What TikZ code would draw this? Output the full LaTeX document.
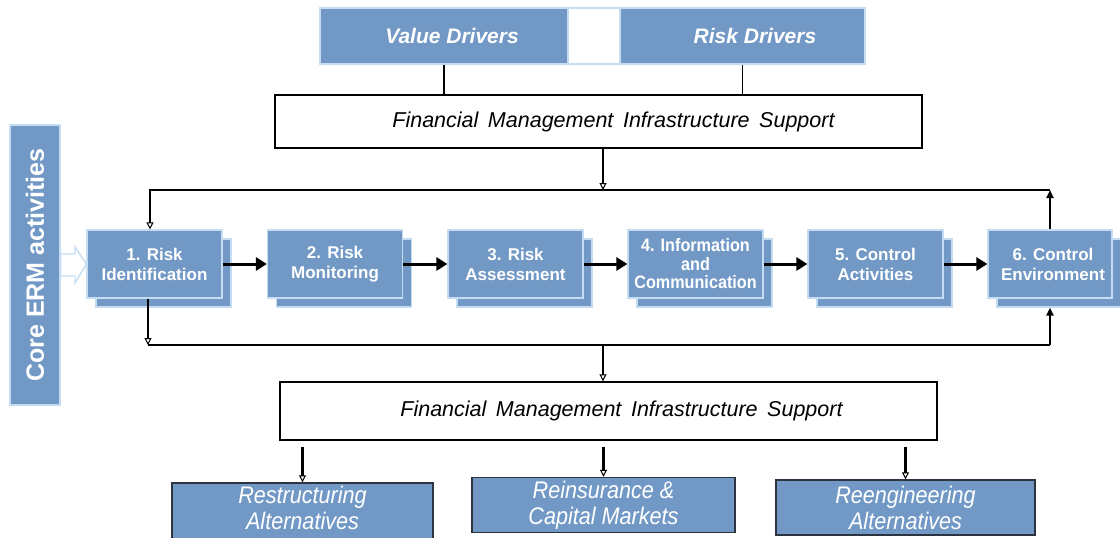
\documentclass[tikz,border=0pt]{standalone}
\usepackage{fontspec}
\setmainfont{Liberation Sans}
\newfontfamily\narrowsans[FakeStretch=0.9]{Liberation Sans}
\usetikzlibrary{arrows.meta,shadows}

\definecolor{ermblue}{HTML}{7299C6}
\definecolor{ermedge}{HTML}{C5DDF2}
\definecolor{ermdark}{HTML}{2B3440}

\tikzset{
  stepbox/.style={draw=ermedge, line width=1.2pt, fill=ermblue, text=white,
    minimum width=135pt, minimum height=68pt, inner sep=2pt, align=center,
    font={\fontsize{17}{20}\selectfont\bfseries},
    copy shadow={shadow xshift=9pt, shadow yshift=-9pt}},
  driverbox/.style={draw=ermedge, line width=1.2pt, fill=ermblue, text=white,
    minimum height=56pt, font={\fontsize{21}{24}\selectfont\bfseries\itshape}},
  supportbox/.style={draw=black, line width=1.4pt, fill=white,
    font={\fontsize{21.5}{24}\selectfont\itshape}},
  altbox/.style={draw=ermdark, line width=1.4pt, fill=ermblue, text=white,
    align=center, font={\narrowsans\fontsize{24}{26}\selectfont\itshape}},
  loopline/.style={line width=2.6pt, black},
  flowarrow/.style={line width=3pt, -{Triangle[length=11pt, width=13pt]}},
  opentip/.style={line width=2.2pt, -{Triangle[open, length=7pt, width=7pt, line width=1pt]}},
  uptip/.style={line width=2.6pt, -{Triangle[length=8pt, width=7pt]}}
}

\begin{document}
\begin{tikzpicture}[x=1pt, y=-1pt]
\useasboundingbox (0,0) rectangle (1120,538);

% drivers along the top
\node [driverbox, minimum width=248pt] (valuedrv) at (444,36) {\hspace*{16pt}Value Drivers};
\node [draw=ermedge, line width=1.2pt, fill=white, minimum width=52pt, minimum height=56pt] (gapbox) at (594,36) {};
\node [driverbox, minimum width=245pt] (riskdrv) at (742.5,36) {\hspace*{25pt}Risk Drivers};

\node [supportbox, minimum width=647pt, minimum height=53pt] (fmistop) at (598.5,121.5)
  {\hspace*{30pt}Financial\, Management\, Infrastructure\, Support};

\draw [line width=1.4pt] (valuedrv.south) -- (valuedrv.south |- fmistop.north);
\draw [line width=1.4pt] (riskdrv.south) -- (riskdrv.south |- fmistop.north);

% core ERM bar
\node [fill=ermblue, draw=ermedge, line width=1.2pt, text=white, rotate=90,
  minimum width=280pt, minimum height=50pt,
  font={\fontsize{25}{27}\selectfont\bfseries}] (core) at (35,265) {Core ERM activities};

% the six steps
\node [stepbox] (risk1) at (154.5,264) {1. Risk\\Identification};
\node [stepbox] (risk2) at (335,264) {2. Risk\\Monitoring};
\node [stepbox] (risk3) at (515.5,264) {3. Risk\\Assessment};
\node [stepbox, font={\narrowsans\fontsize{18}{18.5}\selectfont\bfseries}] (risk4) at (695.5,264) {4. Information\\and\\Communication};
\node [stepbox] (risk5) at (875.5,264) {5. Control\\Activities};
\node [stepbox, minimum width=124pt] (risk6) at (1050,264) {\hspace*{6pt}6. Control\\\hspace*{6pt}Environment};

\draw [fill=white, draw=ermedge, line width=1.4pt]
  (core.south |- 0,254) -- (75,254) -- (75,247) -- (risk1.west) -- (75,283) -- (75,276) -- (core.south |- 0,276) -- cycle;

\draw [flowarrow] (risk1) -- (risk2);
\draw [flowarrow] (risk2) -- (risk3);
\draw [flowarrow] (risk3) -- (risk4);
\draw [flowarrow] (risk4) -- (risk5);
\draw [flowarrow] (risk5) -- (risk6);

% feedback loops
\coordinate (topleft) at (150,190);
\coordinate (topright) at (1050,190);
\coordinate (topjoin) at (603,190);
\coordinate (botleft) at (148,345);
\coordinate (botright) at (1050,345);
\coordinate (botjoin) at (603,345);

\draw [opentip] (fmistop.south -| topjoin) -- (topjoin);
\draw [uptip] (risk6.north) -- (topright);
\draw [opentip, line width=2.6pt] (topright) -- (topleft) -- (topleft |- risk1.north);
\draw [opentip, line width=2.6pt] (botleft |- risk1.south) -- (botleft);
\draw [loopline] (botleft) -- (botright);
\draw [uptip] (botright) -- ([yshift=-9pt]risk6.south);

\node [supportbox, minimum width=657pt, minimum height=58pt] (fmisbot) at (608.5,411)
  {\hspace*{26pt}Financial\, Management\, Infrastructure\, Support};

\draw [opentip] (botjoin) -- (botjoin |- fmisbot.north);

% alternatives
\node [altbox, minimum width=261pt, minimum height=56pt] (alt1) at (302.5,512) {Restructuring\\Alternatives\\[-18pt]};
\node [altbox, minimum width=263pt, minimum height=54pt] (alt2) at (603.5,505) {Reinsurance \&\\Capital Markets};
\node [altbox, minimum width=259pt, minimum height=55pt] (alt3) at (905.5,507.5) {Reengineering\\Alternatives};

\draw [opentip] ([yshift=-6pt]fmisbot.south -| alt1.north) -- (alt1.north);
\draw [opentip] ([yshift=-6pt]fmisbot.south -| alt2.north) -- (alt2.north);
\draw [opentip] ([yshift=-6pt]fmisbot.south -| alt3.north) -- (alt3.north);

\end{tikzpicture}
\end{document}
